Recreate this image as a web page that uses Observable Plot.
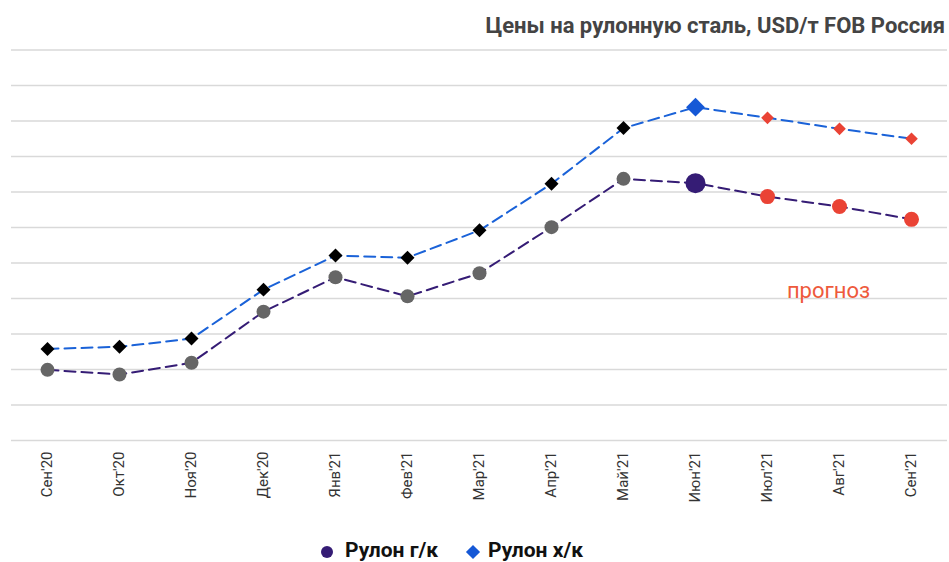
<!DOCTYPE html>
<html>
<head>
<meta charset="utf-8">
<script src="https://cdn.jsdelivr.net/npm/d3@7"></script>
<script src="https://cdn.jsdelivr.net/npm/@observablehq/plot@0.6"></script>
<style>
  html, body { margin: 0; padding: 0; background: #fff; }
  body { width: 949px; height: 562px; overflow: hidden; font-family: Roboto, "Noto Sans", sans-serif; }
  #title { position: relative; height: 45px; }
  #title span { position: absolute; right: 4px; top: 15px; font-size: 22px; line-height: 22px; font-weight: 700; color: #444; white-space: nowrap; }
  #legend { position: relative; height: 45px; }
  #legend .txt { position: absolute; top: 23px; font-size: 21px; line-height: 21px; font-weight: 700; color: #111; white-space: nowrap; }
  #legend .mk { position: absolute; }
</style>
</head>
<body>
<div id="title"><span>Цены на рулонную сталь, USD/т FOB Россия</span></div>
<div id="chart"></div>
<div id="legend"></div>
<script>
// ---- data (y units unlabeled in source) ----
const months = ["Сен'20","Окт'20","Ноя'20","Дек'20","Янв'21","Фев'21","Мар'21","Апр'21","Май'21","Июн'21","Июл'21","Авг'21","Сен'21"];
const hotRolled  = [399, 386, 419, 563, 660, 606, 671, 801, 937, 925, 887, 859, 823];   // Рулон г/к
const coldRolled = [458, 464, 487, 625, 721, 715, 792, 923, 1080, 1139, 1109, 1078, 1050]; // Рулон х/к
const status = ["fact","fact","fact","fact","fact","fact","fact","fact","fact","current","forecast","forecast","forecast"];
const gridTicks = [200, 300, 400, 500, 600, 700, 800, 900, 1000, 1100, 1200, 1300];
const seriesNames = ["Рулон г/к", "Рулон х/к"];
const forecastNote = [{month: "Авг'21", value: 620, label: "прогноз"}];

// ---- build tables ----
const hr = months.map((m, i) => ({month: m, value: hotRolled[i], status: status[i]}));
const cr = months.map((m, i) => ({month: m, value: coldRolled[i], status: status[i]}));

const C = {hrLine: "#351c75", crLine: "#1a62d8", gray: "#666666", red: "#ea4335", blue: "#1558d6", note: "#ee5a3c"};

const chart = Plot.plot({
  width: 949,
  height: 472,
  marginTop: 4.5,
  marginBottom: 77,
  marginLeft: 11,
  marginRight: 2,
  style: {fontFamily: "Roboto, sans-serif", background: "transparent"},
  x: {type: "point", domain: months, padding: 0.5, label: null},
  y: {domain: [200, 1300], axis: null},
  marks: [
    Plot.ruleY(gridTicks, {stroke: "#d9d9d9", strokeWidth: 1.4}),
    Plot.axisX({tickRotate: -90, tickSize: 0, tickPadding: 11, fontSize: 15, fill: "#333", label: null}),
    Plot.line(hr, {x: "month", y: "value", stroke: C.hrLine, strokeWidth: 2, strokeDasharray: "11,6"}),
    Plot.line(cr, {x: "month", y: "value", stroke: C.crLine, strokeWidth: 2, strokeDasharray: "11,6"}),
    // hot-rolled markers
    Plot.dot(hr.filter(d => d.status === "fact"), {x: "month", y: "value", r: 7, fill: C.gray}),
    Plot.dot(hr.filter(d => d.status === "current"), {x: "month", y: "value", r: 10, fill: C.hrLine}),
    Plot.dot(hr.filter(d => d.status === "forecast"), {x: "month", y: "value", r: 7.5, fill: C.red}),
    // cold-rolled markers
    Plot.dot(cr.filter(d => d.status === "fact"), {x: "month", y: "value", r: 6.3, symbol: "diamond2", fill: "#000"}),
    Plot.dot(cr.filter(d => d.status === "current"), {x: "month", y: "value", r: 8.5, symbol: "diamond2", fill: C.blue}),
    Plot.dot(cr.filter(d => d.status === "forecast"), {x: "month", y: "value", r: 5.7, symbol: "diamond2", fill: C.red}),
    Plot.text(forecastNote, {x: "month", y: "value", text: "label", fill: C.note, fontSize: 22, dx: -11, textAnchor: "middle"})
  ]
});
document.getElementById("chart").appendChild(chart);

// ---- legend ----
const lg = document.getElementById("legend");
lg.innerHTML = `
  <span class="mk" style="left:321px; top:29px; width:12px; height:12px; border-radius:50%; background:${C.hrLine}"></span>
  <span class="txt" style="left:345px">${seriesNames[0]}</span>
  <span class="mk" style="left:468px; top:30px; width:10px; height:10px; transform:rotate(45deg); background:${C.blue}"></span>
  <span class="txt" style="left:488px">${seriesNames[1]}</span>`;
</script>
</body>
</html>
